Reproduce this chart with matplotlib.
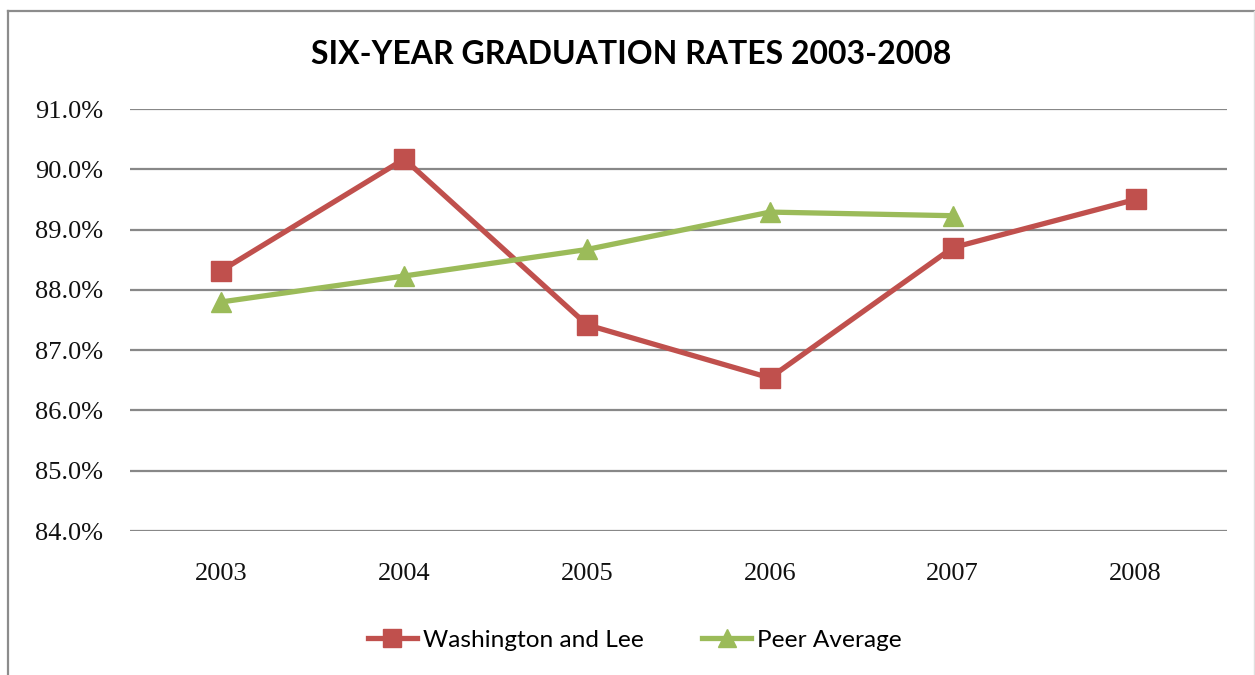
import matplotlib
matplotlib.use("Agg")
import matplotlib.pyplot as plt
from matplotlib.lines import Line2D
from matplotlib.ticker import FuncFormatter

years = ["2003", "2004", "2005", "2006", "2007", "2008"]
wl_rates = [88.32, 90.17, 87.42, 86.54, 88.70, 89.50]
peer_rates = [87.80, 88.23, 88.67, 89.29, 89.23]
title = "SIX-YEAR GRADUATION RATES 2003-2008"
y_ticks = [84, 85, 86, 87, 88, 89, 90, 91]

RED = "#C0504D"
GREEN = "#9BBB59"
GRID = "#888888"

W, H = 1255, 675
fig = plt.figure(figsize=(W / 100, H / 100), dpi=100)
ax = fig.add_axes([130 / W, 1 - 531 / H, (1227 - 130) / W, (531 - 109) / H])

x_wl = list(range(len(wl_rates)))
x_peer = list(range(len(peer_rates)))
ax.plot(x_wl, wl_rates, color=RED, lw=3.8, marker="s", ms=14, mfc=RED, mec=RED,
        label="Washington and Lee", zorder=3)
ax.plot(x_peer, peer_rates, color=GREEN, lw=3.8, marker="^", ms=15, mfc=GREEN, mec=GREEN,
        label="Peer Average", zorder=4)

ax.set_xlim(-0.5, len(years) - 0.5)
ax.set_ylim(84, 91)
ax.set_yticks(y_ticks)
ax.yaxis.set_major_formatter(FuncFormatter(lambda v, p: f"{v:.1f}%"))
ax.set_xticks(range(len(years)))
ax.set_xticklabels(years)
for s in ax.spines.values():
    s.set_visible(False)
ax.tick_params(length=0)
ax.tick_params(axis="y", pad=19.5)
ax.tick_params(axis="x", pad=23)
for lab in ax.get_yticklabels() + ax.get_xticklabels():
    lab.set_fontfamily(["Liberation Serif", "DejaVu Serif"])
    lab.set_fontsize(19)
    lab.set_color("#111111")
ax.grid(axis="y", color=GRID, lw=1.6)
ax.set_axisbelow(True)

fig.text(631 / W, 1 - 54 / H, title, ha="center", va="center",
         fontsize=23, fontweight="bold", family=["Lato", "DejaVu Sans"],
         color="black")

leg = fig.legend(loc="center", bbox_to_anchor=(635 / W, 1 - 640 / H), ncol=2, frameon=False,
                 prop={"family": ["Lato", "DejaVu Sans"], "size": 17.6},
                 handlelength=2.0, columnspacing=2.4, handletextpad=0.25, markerscale=0.9)

# chart border
fig.add_artist(Line2D([8 / W, 8 / W], [0, 1 - 11 / H], transform=fig.transFigure, color="#8c8c8c", lw=1.6))
fig.add_artist(Line2D([8 / W, 1254 / W], [1 - 11 / H, 1 - 11 / H], transform=fig.transFigure, color="#8c8c8c", lw=1.6))
fig.add_artist(Line2D([1254 / W, 1254 / W], [0, 1 - 11 / H], transform=fig.transFigure, color="#e0e0e0", lw=1.0))

fig.savefig("out.png", dpi=100)
